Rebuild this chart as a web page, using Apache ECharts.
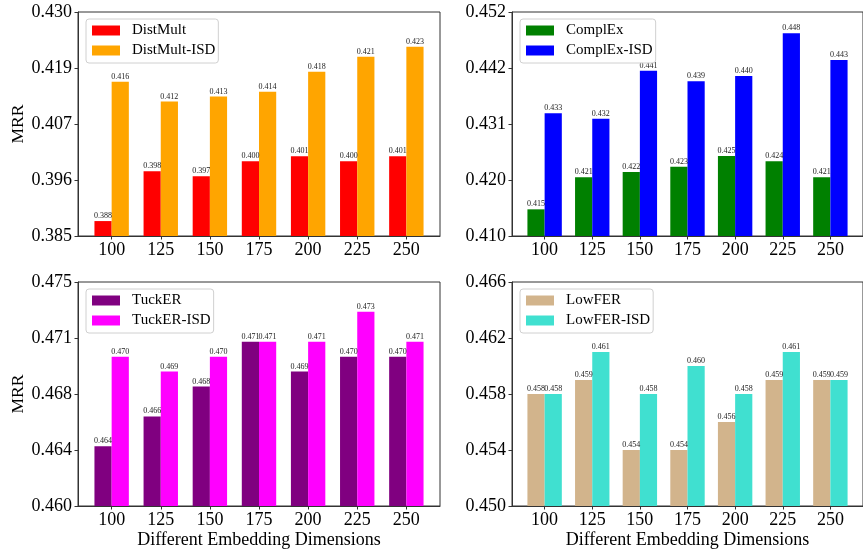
<!DOCTYPE html>
<html>
<head>
<meta charset="utf-8">
<script src="https://cdn.jsdelivr.net/npm/echarts@6/dist/echarts.min.js"></script>
<style>
html,body{margin:0;padding:0;background:#fff;}
#chart{width:863px;height:552px;}
</style>
</head>
<body>
<div id="chart"></div>
<script>
// ---- data ----
const categories = ['100', '125', '150', '175', '200', '225', '250'];

const distMult    = [0.388, 0.398, 0.397, 0.400, 0.401, 0.400, 0.401];
const distMultISD = [0.416, 0.412, 0.413, 0.414, 0.418, 0.421, 0.423];
const complEx     = [0.415, 0.421, 0.422, 0.423, 0.425, 0.424, 0.421];
const complExISD  = [0.433, 0.432, 0.441, 0.439, 0.440, 0.448, 0.443];
const tuckER      = [0.464, 0.466, 0.468, 0.471, 0.469, 0.470, 0.470];
const tuckERISD   = [0.470, 0.469, 0.470, 0.471, 0.471, 0.473, 0.471];
const lowFER      = [0.458, 0.459, 0.454, 0.454, 0.456, 0.459, 0.459];
const lowFERISD   = [0.458, 0.461, 0.458, 0.460, 0.458, 0.461, 0.459];

const yTicksDist   = [0.385, 0.39625, 0.4075, 0.41875, 0.430];
const yLabelsDist  = ['0.385', '0.396', '0.407', '0.419', '0.430'];
const yTicksComp   = [0.410, 0.4205, 0.431, 0.4415, 0.452];
const yLabelsComp  = ['0.410', '0.420', '0.431', '0.442', '0.452'];
const yTicksTuck   = [0.460, 0.46375, 0.4675, 0.47125, 0.475];
const yLabelsTuck  = ['0.460', '0.464', '0.468', '0.471', '0.475'];
const yTicksLow    = [0.450, 0.454, 0.458, 0.462, 0.466];
const yLabelsLow   = ['0.450', '0.454', '0.458', '0.462', '0.466'];

const yName = 'MRR';
const xName = 'Different Embedding Dimensions';

// ---- layout / style ----
const FONT = '"Liberation Serif", "DejaVu Serif", serif';
const panels = [
  {left: 78,  top: 12,  names: ['DistMult', 'DistMult-ISD'], data: [distMult, distMultISD], colors: ['#ff0000', '#ffa500'], ticks: yTicksDist, labels: yLabelsDist, yName: true,  xName: false},
  {left: 512, top: 12,  names: ['ComplEx', 'ComplEx-ISD'],   data: [complEx, complExISD],   colors: ['#008000', '#0000ff'], ticks: yTicksComp, labels: yLabelsComp, yName: false, xName: false},
  {left: 78,  top: 282, names: ['TuckER', 'TuckER-ISD'],     data: [tuckER, tuckERISD],     colors: ['#800080', '#ff00ff'], ticks: yTicksTuck, labels: yLabelsTuck, yName: true,  xName: true},
  {left: 512, top: 282, names: ['LowFER', 'LowFER-ISD'],     data: [lowFER, lowFERISD],     colors: ['#d2b48c', '#40e0d0'], ticks: yTicksLow,  labels: yLabelsLow,  yName: false, xName: true}
];
const W = 362, H = 224;
const catIdx = categories.map((_, i) => i);

const option = {
  backgroundColor: '#fff',
  animation: false,
  grid: [], xAxis: [], yAxis: [], series: [], legend: []
};

panels.forEach((p, gi) => {
  option.grid.push({
    left: p.left, top: p.top, width: W, height: H,
    show: true, borderColor: '#333', borderWidth: 1, backgroundColor: 'transparent'
  });
  option.xAxis.push({
    type: 'value', gridIndex: gi, min: -0.685, max: 6.685,
    splitLine: {show: false},
    axisLine: {show: true, onZero: false, lineStyle: {color: '#333', width: 1}},
    axisTick: {show: true, customValues: catIdx, length: 3.5, lineStyle: {color: '#333'}},
    axisLabel: {
      customValues: catIdx, margin: 5,
      formatter: v => categories[Math.round(v)],
      color: '#000', fontFamily: FONT, fontSize: 18
    },
    name: p.xName ? xName : '', nameLocation: 'middle', nameGap: 25,
    nameTextStyle: {color: '#000', fontFamily: FONT, fontSize: 18}
  });
  option.yAxis.push({
    type: 'value', gridIndex: gi, min: p.ticks[0], max: p.ticks[p.ticks.length - 1],
    splitLine: {show: false},
    axisLine: {show: true, onZero: false, lineStyle: {color: '#333', width: 1}},
    axisTick: {show: true, customValues: p.ticks, length: 3.5, lineStyle: {color: '#333'}},
    axisLabel: {
      customValues: p.ticks, margin: 6,
      formatter: v => {
        let best = 0;
        p.ticks.forEach((t, k) => { if (Math.abs(t - v) < Math.abs(p.ticks[best] - v)) best = k; });
        return p.labels[best];
      },
      color: '#000', fontFamily: FONT, fontSize: 18
    },
    name: p.yName ? yName : '', nameLocation: 'middle', nameGap: 50, nameRotate: 90,
    nameTextStyle: {color: '#000', fontFamily: FONT, fontSize: 17.5}
  });
  p.names.forEach((nm, si) => {
    option.series.push({
      type: 'bar', name: nm, xAxisIndex: gi, yAxisIndex: gi,
      data: p.data[si].map((v, i) => [i, v]),
      barWidth: 17.2, barGap: '0%',
      itemStyle: {color: p.colors[si]},
      label: {
        show: true, position: 'top', distance: 1,
        formatter: q => q.value[1].toFixed(3),
        fontFamily: FONT, fontSize: 8, color: '#222'
      },
      clip: true
    });
  });
  option.legend.push({
    data: p.names, orient: 'vertical',
    left: p.left + 8, top: p.top + 7,
    itemWidth: 28, itemHeight: 10, itemGap: 5,
    padding: [4, 3, 5, 6],
    borderColor: '#d0d0d0', borderWidth: 1, borderRadius: 3,
    backgroundColor: 'rgba(255,255,255,0.85)',
    icon: 'rect',
    textStyle: {fontFamily: FONT, fontSize: 15, color: '#000', padding: [0, 0, 0, 7]}
  });
});

const chart = echarts.init(document.getElementById('chart'), null, {renderer: 'canvas'});
chart.setOption(option);
</script>
</body>
</html>
